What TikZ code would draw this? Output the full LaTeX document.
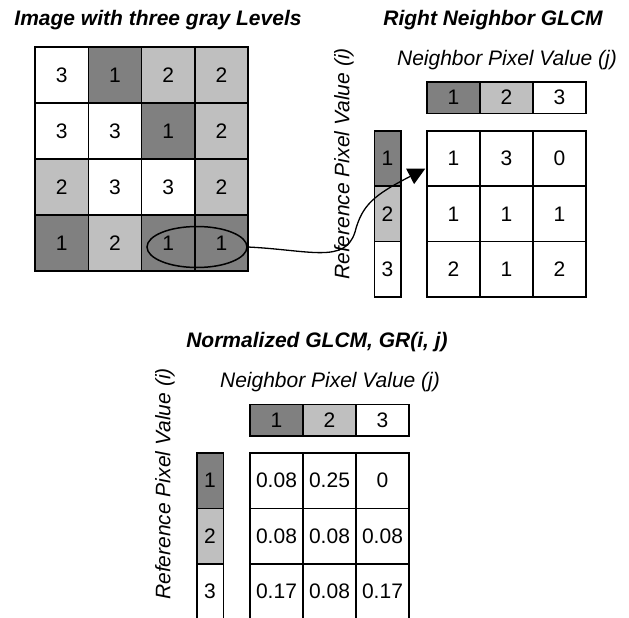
\documentclass[tikz,border=0pt]{standalone}
\usepackage{fontspec}
\setmainfont{Liberation Sans}
\usetikzlibrary{arrows.meta, positioning, shapes.geometric, calc}
\definecolor{darklvl}{gray}{0.5}
\definecolor{lightlvl}{gray}{0.75}

\begin{document}
\begin{tikzpicture}[
    x=1pt, y=-1pt,
    font=\fontsize{21}{25}\selectfont,
    cell/.style={rectangle, draw, line width=1.5pt, inner sep=0pt, fill=white},
    imgcell/.style={cell, minimum width=53.25pt, minimum height=56pt},
    hcell/.style={cell, minimum width=53pt, minimum height=31.5pt},
    gcell/.style={cell, minimum width=53pt, minimum height=55.5pt},
    rcell/.style={cell, minimum width=26.5pt, minimum height=55.5pt},
    lvl1/.style={fill=darklvl},
    lvl2/.style={fill=lightlvl},
    lvl3/.style={fill=white},
    title/.style={font=\fontsize{21}{25}\selectfont\bfseries\itshape},
    axis/.style={font=\fontsize{21}{25}\selectfont\itshape},
    arrow/.style={-{Triangle[length=17pt, width=17pt]}, line width=1.3pt},
]
    \path[use as bounding box, clip] (0,0) rectangle (629,618);

    % image with three gray levels
    \node[title] (imgtitle) at (158,20) {Image with three gray Levels};
    \foreach \row/\vals in {1/{3,1,2,2}, 2/{3,3,1,2}, 3/{2,3,3,2}, 4/{1,2,1,1}} {
        \foreach \v [count=\col] in \vals {
            \node[imgcell, lvl\v] (img-\row-\col) at ({35+53.25*(\col-0.5)}, {47+56*(\row-0.5)}) {\v};
        }
    }
    \node[ellipse, draw, line width=1.5pt, minimum width=100pt, minimum height=41pt, inner sep=0pt]
        (pair) at (197,247) {};

    % right neighbor GLCM
    \node[title] (gtitle) at (493,20) {Right Neighbor GLCM};
    \node[axis] (gnbr) at (507,60) {Neighbor Pixel Value (j)};
    \node[axis, rotate=90] (gref) at (344,164) {Reference Pixel Value (i)};
    \foreach \i in {1,2,3} {
        \node[hcell, lvl\i] (ghead-\i) at ({427+53*(\i-0.5)}, 97.5) {\i};
        \node[rcell, lvl\i] (gside-\i) at (387.5, {131+55.33*(\i-0.5)}) {\i};
    }
    \foreach \row/\vals in {1/{1,3,0}, 2/{1,1,1}, 3/{2,1,2}} {
        \foreach \v [count=\col] in \vals {
            \node[gcell] (glcm-\row-\col) at ({427+53*(\col-0.5)}, {131+55.33*(\row-0.5)}) {\v};
        }
    }
    \coordinate (tip) at ($(glcm-1-1.west)+(-1,10)$);
    \draw[arrow] (pair.east) .. controls (310,250) and (345,264) .. (355,232)
        .. controls (362,205) and (374,195) .. (tip);

    % normalized GLCM
    \node[title] (ntitle) at (317,342) {Normalized GLCM, GR(i, j)};
    \node[axis] (nnbr) at (330,382) {Neighbor Pixel Value (j)};
    \node[axis, rotate=90] (nref) at (165,484) {Reference Pixel Value (i)};
    \foreach \i in {1,2,3} {
        \node[hcell, lvl\i] (nhead-\i) at ({250+53*(\i-0.5)}, 420) {\i};
        \node[rcell, lvl\i] (nside-\i) at (210, {453+55.5*(\i-0.5)}) {\i};
    }
    \foreach \row/\vals in {1/{0.08,0.25,0}, 2/{0.08,0.08,0.08}, 3/{0.17,0.08,0.17}} {
        \foreach \v [count=\col] in \vals {
            \node[gcell] (norm-\row-\col) at ({250+53*(\col-0.5)}, {453+55.5*(\row-0.5)}) {\v};
        }
    }
\end{tikzpicture}
\end{document}
